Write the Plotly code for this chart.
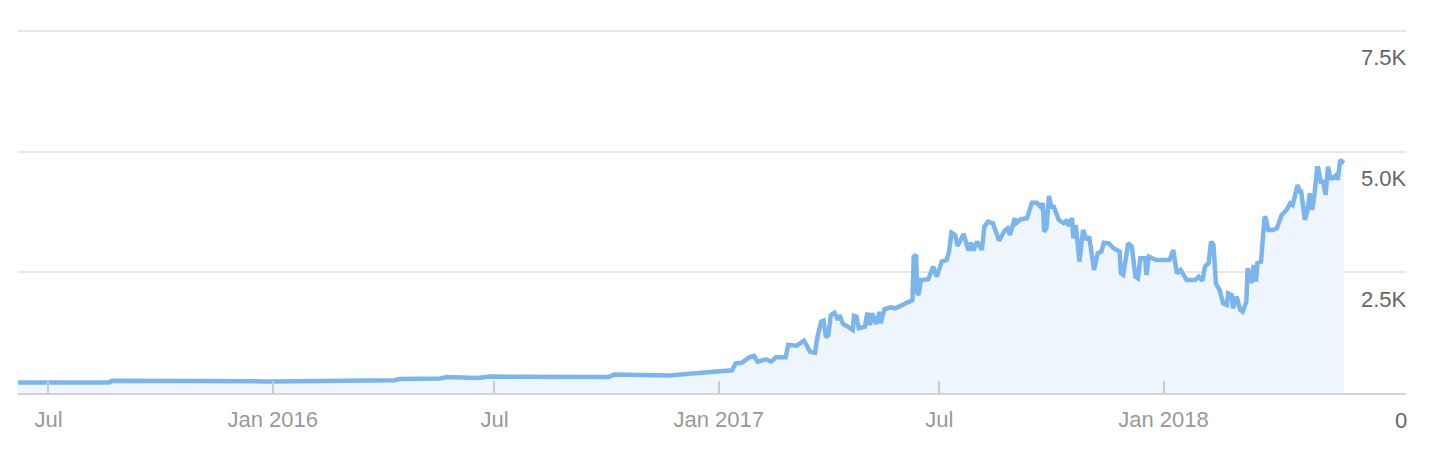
import plotly.graph_objects as go

# ---- data ----
dates = [
    "2015-06-06", "2015-07-15", "2015-08-20", "2015-08-22", "2015-09-20", "2015-11-02",
    "2015-12-29", "2016-02-17", "2016-04-10", "2016-04-14", "2016-05-17", "2016-05-23",
    "2016-06-17", "2016-06-27", "2016-08-07", "2016-09-09", "2016-10-03", "2016-10-07",
    "2016-10-28", "2016-11-22", "2016-12-08", "2016-12-27", "2017-01-12", "2017-01-15",
    "2017-01-20", "2017-01-26", "2017-01-30", "2017-02-02", "2017-02-09", "2017-02-13",
    "2017-02-17", "2017-02-25", "2017-02-27", "2017-03-06", "2017-03-12", "2017-03-17",
    "2017-03-21", "2017-03-23", "2017-03-26", "2017-03-28", "2017-03-30", "2017-04-01",
    "2017-04-03", "2017-04-06", "2017-04-09", "2017-04-10", "2017-04-13", "2017-04-17",
    "2017-04-21", "2017-04-22", "2017-04-24", "2017-04-26", "2017-05-01", "2017-05-03",
    "2017-05-05", "2017-05-07", "2017-05-10", "2017-05-13", "2017-05-14", "2017-05-17",
    "2017-05-22", "2017-05-26", "2017-06-01", "2017-06-06", "2017-06-09", "2017-06-10",
    "2017-06-12", "2017-06-13", "2017-06-14", "2017-06-16", "2017-06-18", "2017-06-22",
    "2017-06-26", "2017-06-29", "2017-07-03", "2017-07-07", "2017-07-09", "2017-07-11",
    "2017-07-14", "2017-07-16", "2017-07-21", "2017-07-25", "2017-07-27", "2017-07-29",
    "2017-08-01", "2017-08-05", "2017-08-07", "2017-08-10", "2017-08-14", "2017-08-19",
    "2017-08-24", "2017-08-26", "2017-08-28", "2017-09-01", "2017-09-02", "2017-09-06",
    "2017-09-11", "2017-09-15", "2017-09-19", "2017-09-22", "2017-09-24", "2017-09-25",
    "2017-09-27", "2017-09-29", "2017-10-01", "2017-10-03", "2017-10-07", "2017-10-11",
    "2017-10-14", "2017-10-15", "2017-10-18", "2017-10-19", "2017-10-21", "2017-10-24",
    "2017-10-27", "2017-10-30", "2017-11-01", "2017-11-05", "2017-11-08", "2017-11-11",
    "2017-11-13", "2017-11-17", "2017-11-21", "2017-11-26", "2017-11-27", "2017-11-29",
    "2017-12-03", "2017-12-06", "2017-12-09", "2017-12-11", "2017-12-13", "2017-12-17",
    "2017-12-18", "2017-12-20", "2017-12-26", "2018-01-04", "2018-01-06", "2018-01-09",
    "2018-01-10", "2018-01-12", "2018-01-15", "2018-01-17", "2018-01-20", "2018-01-27",
    "2018-01-30", "2018-02-02", "2018-02-04", "2018-02-07", "2018-02-09", "2018-02-11",
    "2018-02-13", "2018-02-16", "2018-02-19", "2018-02-22", "2018-02-23", "2018-02-26",
    "2018-02-27", "2018-03-02", "2018-03-05", "2018-03-07", "2018-03-10", "2018-03-11",
    "2018-03-14", "2018-03-16", "2018-03-18", "2018-03-19", "2018-03-22", "2018-03-25",
    "2018-03-26", "2018-03-28", "2018-04-01", "2018-04-04", "2018-04-08", "2018-04-12",
    "2018-04-15", "2018-04-17", "2018-04-21", "2018-04-23", "2018-04-24", "2018-04-27",
    "2018-04-29", "2018-05-01", "2018-05-03", "2018-05-05", "2018-05-07", "2018-05-08",
    "2018-05-10", "2018-05-12", "2018-05-14", "2018-05-16", "2018-05-18", "2018-05-20",
    "2018-05-23", "2018-05-24", "2018-05-26", "2018-05-29",
]
values = [
    215, 220, 215, 255, 245, 250,
    240, 245, 265, 290, 300, 330,
    310, 340, 335, 315, 330, 385,
    380, 365, 400, 440, 470, 615,
    627, 739, 767, 649, 698, 649,
    739, 739, 995, 981, 1084, 856,
    835, 1154, 1477, 1498, 1154, 1202,
    1616, 1664, 1513, 1616, 1430, 1374,
    1305, 1595, 1581, 1340, 1374, 1664,
    1409, 1651, 1430, 1678, 1444, 1734,
    1776, 1755, 1823, 1892, 1927, 2824,
    2859, 2066, 2031, 2341, 2341, 2356,
    2617, 2410, 2721, 2756, 2928, 3321,
    3274, 3046, 3294, 2948, 3114, 2948,
    3135, 2963, 3446, 3549, 3516, 3156,
    3377, 3412, 3274, 3620, 3516, 3599,
    3620, 3943, 3943, 3860, 3930, 3342,
    3412, 4082, 3860, 3860, 3585, 3516,
    3585, 3460, 3620, 3205, 3481, 2721,
    3377, 3170, 3239, 2549, 2895, 2928,
    3114, 3101, 2998, 2928, 2479, 2445,
    3101, 3032, 2410, 2376, 2790, 2790,
    2445, 2824, 2756, 2770, 2756, 2963,
    2824, 2479, 2549, 2479, 2342, 2342,
    2410, 2327, 2617, 2687, 3135, 3066,
    2273, 2134, 1858, 1823, 2066, 2031,
    1755, 1996, 1720, 1685, 1892, 2584,
    2273, 2652, 2307, 2687, 2721, 3653,
    3620, 3377, 3377, 3412, 3688, 3792,
    3930, 3895, 4310, 4171, 4171, 3585,
    3757, 4137, 3792, 4137, 4656, 4656,
    4378, 4378, 4103, 4689, 4449, 4449,
    4517, 4413, 4828, 4759,
]

x_tick_vals = ["2015-07-01", "2016-01-01", "2016-07-01", "2017-01-01", "2017-07-01", "2018-01-01"]
x_tick_text = ["Jul", "Jan 2016", "Jul", "Jan 2017", "Jul", "Jan 2018"]
y_tick_vals = [0, 2500, 5000, 7500]
y_tick_text = ["0", "2.5K", "5.0K", "7.5K"]

fig = go.Figure()
fig.add_trace(go.Scatter(
    x=dates, y=values, mode="lines",
    line=dict(color="#7cb5ec", width=4.5),
    fill="tozeroy", fillcolor="#eef5fc",
    hoverinfo="skip", showlegend=False,
))

font_family = "Liberation Sans, Arial, sans-serif"

# y-axis labels sit just below their grid lines, flush with the right edge
for val, txt in zip(y_tick_vals, y_tick_text):
    fig.add_annotation(
        x=1, xref="paper", y=val, yref="y",
        text=txt, showarrow=False,
        xanchor="right", yanchor="middle", yshift=-27, xshift=3,
        font=dict(family=font_family, size=22, color="#666666"),
    )

# the page body adds an 8px offset, so the figure is sized/margined to compensate
fig.update_layout(
    width=1424, height=450,
    margin=dict(l=10, r=26, t=20, b=65),
    paper_bgcolor="white", plot_bgcolor="white",
    showlegend=False,
    xaxis=dict(
        type="date",
        range=["2015-06-06", "2018-07-19"],
        tickmode="array", tickvals=x_tick_vals, ticktext=x_tick_text,
        ticks="inside", ticklen=12, tickwidth=1.5, tickcolor="#cccccc",
        showgrid=False, zeroline=False,
        showline=True, linecolor="#d3d3d3", linewidth=2,
        tickfont=dict(family=font_family, size=22, color="#999999"),
        ticklabelstandoff=6,
    ),
    yaxis=dict(
        range=[0, 7560], side="right",
        tickmode="array", tickvals=y_tick_vals, ticktext=y_tick_text,
        showticklabels=False,
        showgrid=True, gridcolor="#e6e6e6", gridwidth=2,
        zeroline=False, showline=False, ticks="",
    ),
)

fig.write_html("out.html")
